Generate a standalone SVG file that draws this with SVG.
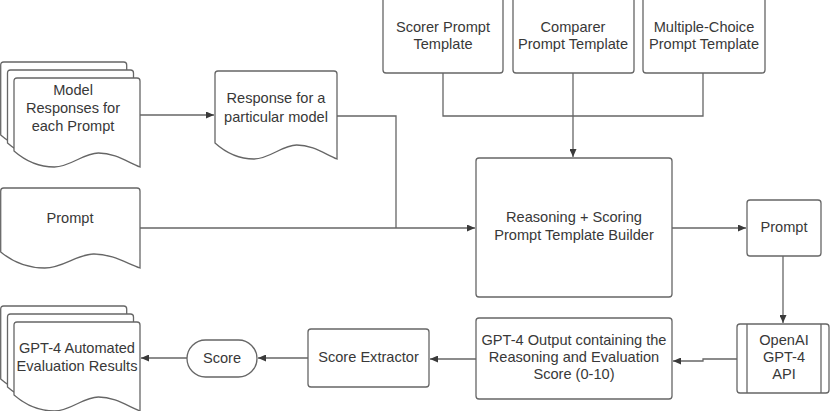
<svg xmlns="http://www.w3.org/2000/svg" width="830" height="411" viewBox="0 0 830 411">
<style>
.s{fill:#fff;stroke:#666;stroke-width:1.3}
.t{font-family:"Liberation Sans",Arial,sans-serif;font-size:14.6px;fill:#383838;text-anchor:middle}
.c{fill:none;stroke:#666;stroke-width:1.3}
</style>
<defs>
<marker id="ah" markerWidth="8" markerHeight="7" refX="8" refY="3.5" orient="auto" markerUnits="userSpaceOnUse">
<path d="M0,0 L8,3.5 L0,7 z" fill="#3a3a3a"/>
</marker>
<path id="doc" d="M0,3 Q0,0 3,0 H123 Q126,0 126,3 V89 C113.4,84 100.8,75 84.4,75 C69.3,75 56.7,89 40.3,89 C25.2,89 12.6,84 0,73 Z"/>
</defs>
<rect width="830" height="411" fill="#fff"/>

<g id="connectors">
<path class="c" d="M140,115 H214" marker-end="url(#ah)"/>
<path class="c" d="M337,116 H396 V228"/>
<path class="c" d="M140,228 H475" marker-end="url(#ah)"/>
<path class="c" d="M443,73 V116 H703 V73"/>
<path class="c" d="M573,73 V157" marker-end="url(#ah)"/>
<path class="c" d="M672,228 H746" marker-end="url(#ah)"/>
<path class="c" d="M783,256 V323" marker-end="url(#ah)"/>
<path class="c" d="M737,359 H703 V361 H673" marker-end="url(#ah)"/>
<path class="c" d="M476,359 H430" marker-end="url(#ah)"/>
<path class="c" d="M308,358 H258" marker-end="url(#ah)"/>
<path class="c" d="M187,358 H141" marker-end="url(#ah)"/>
</g>

<g id="model-responses">
<use href="#doc" class="s" transform="translate(0.7,62)"/>
<use href="#doc" class="s" transform="translate(7.5,70)"/>
<use href="#doc" class="s" transform="translate(14,78)"/>
<text class="t" x="73" y="95">Model</text>
<text class="t" x="73" y="113">Responses for</text>
<text class="t" x="73" y="131">each Prompt</text>
</g>

<g id="response-particular">
<path class="s" d="M215,74 Q215,71 218,71 H334 Q337,71 337,74 V159 C324.8,154 312.6,145 296.7,145 C282.1,145 269.9,159 254,159 C239.4,159 227.2,154 215,143 Z"/>
<text class="t" x="276" y="103">Response for a</text>
<text class="t" x="276" y="122">particular model</text>
</g>

<g id="prompt-input">
<path class="s" d="M0.7,191 Q0.7,188 3.7,188 H137 Q140,188 140,191 V268 C126,263 112,254 93.8,254 C77,254 63,268 44.8,268 C28,268 14,263 0.7,252 Z"/>
<text class="t" x="70" y="223">Prompt</text>
</g>

<g id="scorer-template">
<rect class="s" x="383" y="-3" width="120" height="76" rx="3"/>
<text class="t" x="443" y="32">Scorer Prompt</text>
<text class="t" x="443" y="49">Template</text>
</g>

<g id="comparer-template">
<rect class="s" x="513" y="-3" width="121" height="76" rx="3"/>
<text class="t" x="573" y="32">Comparer</text>
<text class="t" x="573" y="49">Prompt Template</text>
</g>

<g id="mc-template">
<rect class="s" x="643" y="-3" width="122" height="76" rx="3"/>
<text class="t" x="704" y="32">Multiple-Choice</text>
<text class="t" x="704" y="49">Prompt Template</text>
</g>

<g id="builder">
<rect class="s" x="476" y="158" width="196" height="139" rx="3"/>
<text class="t" x="574" y="222">Reasoning + Scoring</text>
<text class="t" x="574" y="240">Prompt Template Builder</text>
</g>

<g id="prompt-out">
<rect class="s" x="747" y="200" width="74" height="56" rx="3"/>
<text class="t" x="784" y="232">Prompt</text>
</g>

<g id="openai">
<rect class="s" x="737" y="324" width="92" height="69" rx="3"/>
<line class="c" x1="747" y1="324" x2="747" y2="393"/>
<line class="c" x1="821" y1="324" x2="821" y2="393"/>
<text class="t" x="784" y="345">OpenAI</text>
<text class="t" x="784" y="362">GPT-4</text>
<text class="t" x="784" y="379">API</text>
</g>

<g id="gpt-output">
<rect class="s" x="476" y="318" width="196" height="81" rx="3"/>
<text class="t" x="574" y="345">GPT-4 Output containing the</text>
<text class="t" x="574" y="362">Reasoning and Evaluation</text>
<text class="t" x="574" y="379">Score (0-10)</text>
</g>

<g id="score-extractor">
<rect class="s" x="308" y="329" width="121" height="58" rx="3"/>
<text class="t" x="368.5" y="362">Score Extractor</text>
</g>

<g id="score">
<rect class="s" x="187" y="340" width="70" height="37" rx="18.5"/>
<text class="t" x="222" y="363">Score</text>
</g>

<g id="eval-results">
<use href="#doc" class="s" transform="translate(0.7,306)"/>
<use href="#doc" class="s" transform="translate(7.5,314)"/>
<use href="#doc" class="s" transform="translate(14,322)"/>
<text class="t" x="77" y="353">GPT-4 Automated</text>
<text class="t" x="77" y="371">Evaluation Results</text>
</g>
</svg>
